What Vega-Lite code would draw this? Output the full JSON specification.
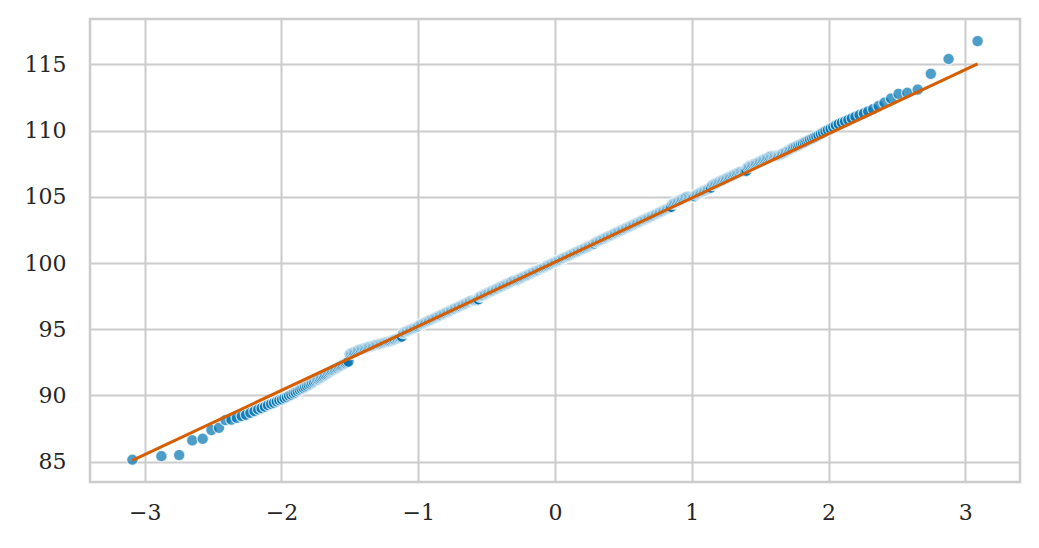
{
"$schema":"https://vega.github.io/schema/vega-lite/v6.json",
"width":930,"height":463,
"autosize":{"type":"none"},
"padding":{"left":90,"top":19,"right":19,"bottom":66},
"background":"white",
"config":{
"view":{"stroke":"#cccccc","strokeWidth":2.5},
"axis":{"grid":true,"gridColor":"#cccccc","gridWidth":2,"domain":false,"ticks":false,"labelFont":"DejaVu Serif","labelFontSize":22,"labelColor":"#262626","title":null}
},
"datasets":{
"fit":[{"x":-3.09,"y":85.11},{"x":3.09,"y":115.03}],
"pts":[
{"x":-3.090,"y":85.15},{"x":-2.878,"y":85.42},{"x":-2.748,"y":85.50},{"x":-2.652,"y":86.61},{"x":-2.576,"y":86.73},{"x":-2.512,"y":87.39},{"x":-2.457,"y":87.56},{"x":-2.409,"y":88.14},{"x":-2.366,"y":88.17},{"x":-2.326,"y":88.31},
{"x":-2.290,"y":88.44},{"x":-2.259,"y":88.54},{"x":-2.227,"y":88.69},{"x":-2.197,"y":88.82},{"x":-2.170,"y":88.95},{"x":-2.145,"y":89.04},{"x":-2.121,"y":89.15},{"x":-2.098,"y":89.27},{"x":-2.075,"y":89.36},{"x":-2.054,"y":89.45},
{"x":-2.034,"y":89.55},{"x":-2.015,"y":89.64},{"x":-1.996,"y":89.71},{"x":-1.978,"y":89.80},{"x":-1.960,"y":89.88},{"x":-1.944,"y":89.98},{"x":-1.927,"y":90.06},{"x":-1.911,"y":90.16},{"x":-1.896,"y":90.24},{"x":-1.881,"y":90.33},
{"x":-1.866,"y":90.42},{"x":-1.853,"y":90.50},{"x":-1.839,"y":90.57},{"x":-1.826,"y":90.65},{"x":-1.813,"y":90.73},{"x":-1.800,"y":90.80},{"x":-1.787,"y":90.87},{"x":-1.775,"y":90.95},{"x":-1.763,"y":91.02},{"x":-1.751,"y":91.10},
{"x":-1.74,"y":91.17},{"x":-1.73,"y":91.23},{"x":-1.72,"y":91.30},{"x":-1.71,"y":91.35},{"x":-1.70,"y":91.42},{"x":-1.69,"y":91.48},{"x":-1.68,"y":91.55},{"x":-1.67,"y":91.62},{"x":-1.66,"y":91.69},{"x":-1.65,"y":91.75},
{"x":-1.64,"y":91.81},{"x":-1.63,"y":91.87},{"x":-1.62,"y":91.93},{"x":-1.61,"y":91.99},{"x":-1.60,"y":92.05},{"x":-1.59,"y":92.09},{"x":-1.58,"y":92.15},{"x":-1.57,"y":92.21},{"x":-1.56,"y":92.27},{"x":-1.55,"y":92.33},
{"x":-1.54,"y":92.39},{"x":-1.53,"y":92.44},{"x":-1.52,"y":92.50},{"x":-1.51,"y":92.56},{"x":-1.50,"y":93.13},{"x":-1.49,"y":93.18},{"x":-1.48,"y":93.22},{"x":-1.47,"y":93.27},{"x":-1.46,"y":93.31},{"x":-1.45,"y":93.35},
{"x":-1.44,"y":93.41},{"x":-1.43,"y":93.45},{"x":-1.42,"y":93.48},{"x":-1.41,"y":93.52},{"x":-1.40,"y":93.54},{"x":-1.39,"y":93.57},{"x":-1.38,"y":93.60},{"x":-1.37,"y":93.64},{"x":-1.36,"y":93.67},{"x":-1.35,"y":93.70},
{"x":-1.34,"y":93.72},{"x":-1.33,"y":93.75},{"x":-1.32,"y":93.78},{"x":-1.31,"y":93.81},{"x":-1.30,"y":93.84},{"x":-1.29,"y":93.87},{"x":-1.28,"y":93.89},{"x":-1.27,"y":93.92},{"x":-1.26,"y":93.95},{"x":-1.25,"y":93.98},
{"x":-1.24,"y":94.01},{"x":-1.23,"y":94.04},{"x":-1.22,"y":94.07},{"x":-1.21,"y":94.09},{"x":-1.20,"y":94.11},{"x":-1.19,"y":94.15},{"x":-1.18,"y":94.19},{"x":-1.17,"y":94.23},{"x":-1.16,"y":94.28},{"x":-1.15,"y":94.31},
{"x":-1.14,"y":94.36},{"x":-1.13,"y":94.40},{"x":-1.12,"y":94.45},{"x":-1.11,"y":94.72},{"x":-1.10,"y":94.77},{"x":-1.09,"y":94.82},{"x":-1.08,"y":94.87},{"x":-1.07,"y":94.91},{"x":-1.06,"y":94.95},{"x":-1.05,"y":95.00},
{"x":-1.04,"y":95.05},{"x":-1.03,"y":95.09},{"x":-1.02,"y":95.13},{"x":-1.01,"y":95.17},{"x":-1.00,"y":95.22},{"x":-0.99,"y":95.30},{"x":-0.98,"y":95.37},{"x":-0.97,"y":95.42},{"x":-0.96,"y":95.46},{"x":-0.95,"y":95.51},
{"x":-0.94,"y":95.56},{"x":-0.93,"y":95.61},{"x":-0.92,"y":95.66},{"x":-0.91,"y":95.71},{"x":-0.90,"y":95.75},{"x":-0.89,"y":95.80},{"x":-0.88,"y":95.85},{"x":-0.87,"y":95.90},{"x":-0.86,"y":95.95},{"x":-0.85,"y":96.00},
{"x":-0.84,"y":96.04},{"x":-0.83,"y":96.09},{"x":-0.82,"y":96.14},{"x":-0.81,"y":96.19},{"x":-0.80,"y":96.24},{"x":-0.79,"y":96.29},{"x":-0.78,"y":96.33},{"x":-0.77,"y":96.38},{"x":-0.76,"y":96.43},{"x":-0.75,"y":96.48},
{"x":-0.74,"y":96.53},{"x":-0.73,"y":96.58},{"x":-0.72,"y":96.63},{"x":-0.71,"y":96.67},{"x":-0.70,"y":96.72},{"x":-0.69,"y":96.77},{"x":-0.68,"y":96.82},{"x":-0.67,"y":96.87},{"x":-0.66,"y":96.92},{"x":-0.65,"y":96.96},
{"x":-0.64,"y":97.01},{"x":-0.63,"y":97.06},{"x":-0.62,"y":97.11},{"x":-0.61,"y":97.16},{"x":-0.60,"y":97.17},{"x":-0.59,"y":97.17},{"x":-0.58,"y":97.18},{"x":-0.57,"y":97.21},{"x":-0.56,"y":97.26},{"x":-0.55,"y":97.46},
{"x":-0.54,"y":97.51},{"x":-0.53,"y":97.55},{"x":-0.52,"y":97.60},{"x":-0.51,"y":97.65},{"x":-0.50,"y":97.70},{"x":-0.49,"y":97.75},{"x":-0.48,"y":97.80},{"x":-0.47,"y":97.85},{"x":-0.46,"y":97.89},{"x":-0.45,"y":97.94},
{"x":-0.44,"y":97.99},{"x":-0.43,"y":98.04},{"x":-0.42,"y":98.09},{"x":-0.41,"y":98.14},{"x":-0.40,"y":98.18},{"x":-0.39,"y":98.23},{"x":-0.38,"y":98.28},{"x":-0.37,"y":98.33},{"x":-0.36,"y":98.38},{"x":-0.35,"y":98.43},
{"x":-0.34,"y":98.47},{"x":-0.33,"y":98.52},{"x":-0.32,"y":98.57},{"x":-0.31,"y":98.62},{"x":-0.30,"y":98.67},{"x":-0.29,"y":98.67},{"x":-0.28,"y":98.71},{"x":-0.27,"y":98.76},{"x":-0.26,"y":98.81},{"x":-0.25,"y":98.86},
{"x":-0.24,"y":98.91},{"x":-0.23,"y":98.96},{"x":-0.22,"y":99.01},{"x":-0.21,"y":99.05},{"x":-0.20,"y":99.10},{"x":-0.19,"y":99.15},{"x":-0.18,"y":99.20},{"x":-0.17,"y":99.25},{"x":-0.16,"y":99.30},{"x":-0.15,"y":99.34},
{"x":-0.14,"y":99.39},{"x":-0.13,"y":99.44},{"x":-0.12,"y":99.49},{"x":-0.11,"y":99.54},{"x":-0.10,"y":99.59},{"x":-0.09,"y":99.63},{"x":-0.08,"y":99.68},{"x":-0.07,"y":99.73},{"x":-0.06,"y":99.78},{"x":-0.05,"y":99.83},
{"x":-0.04,"y":99.88},{"x":-0.03,"y":99.92},{"x":-0.02,"y":99.97},{"x":-0.01,"y":100.02},{"x":0.00,"y":100.07},{"x":0.01,"y":100.12},{"x":0.02,"y":100.17},{"x":0.03,"y":100.22},{"x":0.04,"y":100.26},{"x":0.05,"y":100.31},
{"x":0.06,"y":100.36},{"x":0.07,"y":100.41},{"x":0.08,"y":100.46},{"x":0.09,"y":100.51},{"x":0.10,"y":100.55},{"x":0.11,"y":100.60},{"x":0.12,"y":100.65},{"x":0.13,"y":100.70},{"x":0.14,"y":100.75},{"x":0.15,"y":100.80},
{"x":0.16,"y":100.84},{"x":0.17,"y":100.89},{"x":0.18,"y":100.94},{"x":0.19,"y":100.99},{"x":0.20,"y":101.04},{"x":0.21,"y":101.09},{"x":0.22,"y":101.13},{"x":0.23,"y":101.18},{"x":0.24,"y":101.23},{"x":0.25,"y":101.28},
{"x":0.26,"y":101.33},{"x":0.27,"y":101.38},{"x":0.28,"y":101.43},{"x":0.29,"y":101.47},{"x":0.30,"y":101.57},{"x":0.31,"y":101.62},{"x":0.32,"y":101.67},{"x":0.33,"y":101.72},{"x":0.34,"y":101.77},{"x":0.35,"y":101.81},
{"x":0.36,"y":101.86},{"x":0.37,"y":101.91},{"x":0.38,"y":101.96},{"x":0.39,"y":102.01},{"x":0.40,"y":102.06},{"x":0.41,"y":102.10},{"x":0.42,"y":102.15},{"x":0.43,"y":102.20},{"x":0.44,"y":102.25},{"x":0.45,"y":102.30},
{"x":0.46,"y":102.35},{"x":0.47,"y":102.39},{"x":0.48,"y":102.44},{"x":0.49,"y":102.49},{"x":0.50,"y":102.54},{"x":0.51,"y":102.59},{"x":0.52,"y":102.64},{"x":0.53,"y":102.69},{"x":0.54,"y":102.73},{"x":0.55,"y":102.78},
{"x":0.56,"y":102.83},{"x":0.57,"y":102.88},{"x":0.58,"y":102.93},{"x":0.59,"y":102.98},{"x":0.60,"y":103.02},{"x":0.61,"y":103.07},{"x":0.62,"y":103.12},{"x":0.63,"y":103.17},{"x":0.64,"y":103.22},{"x":0.65,"y":103.27},
{"x":0.66,"y":103.31},{"x":0.67,"y":103.36},{"x":0.68,"y":103.41},{"x":0.69,"y":103.46},{"x":0.70,"y":103.51},{"x":0.71,"y":103.56},{"x":0.72,"y":103.60},{"x":0.73,"y":103.65},{"x":0.74,"y":103.70},{"x":0.75,"y":103.75},
{"x":0.76,"y":103.80},{"x":0.77,"y":103.85},{"x":0.78,"y":103.90},{"x":0.79,"y":103.94},{"x":0.80,"y":103.99},{"x":0.81,"y":104.04},{"x":0.82,"y":104.09},{"x":0.83,"y":104.14},{"x":0.84,"y":104.19},{"x":0.85,"y":104.23},
{"x":0.86,"y":104.48},{"x":0.87,"y":104.53},{"x":0.88,"y":104.58},{"x":0.89,"y":104.63},{"x":0.90,"y":104.68},{"x":0.91,"y":104.72},{"x":0.92,"y":104.77},{"x":0.93,"y":104.82},{"x":0.94,"y":104.87},{"x":0.95,"y":104.92},
{"x":0.96,"y":104.97},{"x":0.97,"y":105.01},{"x":0.98,"y":105.01},{"x":0.99,"y":105.01},{"x":1.00,"y":105.01},{"x":1.01,"y":105.02},{"x":1.02,"y":105.04},{"x":1.03,"y":105.16},{"x":1.04,"y":105.20},{"x":1.05,"y":105.25},
{"x":1.06,"y":105.30},{"x":1.07,"y":105.35},{"x":1.08,"y":105.40},{"x":1.09,"y":105.45},{"x":1.10,"y":105.49},{"x":1.11,"y":105.54},{"x":1.12,"y":105.59},{"x":1.13,"y":105.64},{"x":1.14,"y":105.69},{"x":1.15,"y":105.89},
{"x":1.16,"y":105.93},{"x":1.17,"y":105.98},{"x":1.18,"y":106.03},{"x":1.19,"y":106.08},{"x":1.20,"y":106.13},{"x":1.21,"y":106.18},{"x":1.22,"y":106.22},{"x":1.23,"y":106.27},{"x":1.24,"y":106.32},{"x":1.25,"y":106.37},
{"x":1.26,"y":106.42},{"x":1.27,"y":106.47},{"x":1.28,"y":106.52},{"x":1.29,"y":106.56},{"x":1.30,"y":106.61},{"x":1.31,"y":106.66},{"x":1.32,"y":106.71},{"x":1.33,"y":106.76},{"x":1.34,"y":106.81},{"x":1.35,"y":106.85},
{"x":1.36,"y":106.90},{"x":1.37,"y":106.91},{"x":1.38,"y":106.92},{"x":1.39,"y":106.93},{"x":1.40,"y":106.95},{"x":1.41,"y":107.24},{"x":1.42,"y":107.29},{"x":1.43,"y":107.34},{"x":1.44,"y":107.39},{"x":1.45,"y":107.44},
{"x":1.46,"y":107.49},{"x":1.47,"y":107.53},{"x":1.48,"y":107.58},{"x":1.49,"y":107.63},{"x":1.50,"y":107.68},{"x":1.51,"y":107.73},{"x":1.52,"y":107.78},{"x":1.53,"y":107.83},{"x":1.54,"y":107.87},{"x":1.55,"y":107.92},
{"x":1.56,"y":107.97},{"x":1.57,"y":108.02},{"x":1.58,"y":108.07},{"x":1.59,"y":108.08},{"x":1.60,"y":108.08},{"x":1.61,"y":108.09},{"x":1.62,"y":108.10},{"x":1.63,"y":108.12},{"x":1.64,"y":108.15},{"x":1.65,"y":108.19},
{"x":1.66,"y":108.23},{"x":1.67,"y":108.29},{"x":1.68,"y":108.35},{"x":1.69,"y":108.41},{"x":1.70,"y":108.47},{"x":1.71,"y":108.53},{"x":1.72,"y":108.58},{"x":1.73,"y":108.64},{"x":1.74,"y":108.69},
{"x":1.751,"y":108.75},{"x":1.763,"y":108.80},{"x":1.775,"y":108.86},{"x":1.787,"y":108.92},{"x":1.800,"y":108.98},{"x":1.813,"y":109.05},{"x":1.826,"y":109.12},{"x":1.839,"y":109.19},{"x":1.853,"y":109.26},{"x":1.866,"y":109.33},
{"x":1.881,"y":109.40},{"x":1.896,"y":109.48},{"x":1.911,"y":109.56},{"x":1.927,"y":109.65},{"x":1.944,"y":109.75},{"x":1.960,"y":109.85},{"x":1.978,"y":109.95},{"x":1.996,"y":110.05},{"x":2.015,"y":110.15},{"x":2.034,"y":110.28},
{"x":2.054,"y":110.40},{"x":2.075,"y":110.50},{"x":2.098,"y":110.60},{"x":2.121,"y":110.70},{"x":2.145,"y":110.80},{"x":2.170,"y":110.92},{"x":2.197,"y":111.05},{"x":2.227,"y":111.18},{"x":2.259,"y":111.30},{"x":2.290,"y":111.45},
{"x":2.326,"y":111.62},{"x":2.366,"y":111.85},{"x":2.409,"y":112.10},{"x":2.457,"y":112.42},{"x":2.512,"y":112.77},{"x":2.576,"y":112.85},{"x":2.652,"y":113.09},{"x":2.748,"y":114.28},{"x":2.878,"y":115.40},{"x":3.090,"y":116.75}
]},
"encoding":{
"x":{"field":"x","type":"quantitative","scale":{"domain":[-3.40,3.40],"nice":false,"zero":false},"axis":{"values":[-3,-2,-1,0,1,2,3],"format":"d","labelPadding":20}},
"y":{"field":"y","type":"quantitative","scale":{"domain":[83.47,118.42],"nice":false,"zero":false},"axis":{"values":[85,90,95,100,105,110,115],"format":"d","labelPadding":24}}
},
"layer":[
{"data":{"name":"pts"},"mark":{"type":"circle","size":130,"fill":"#0173b2","stroke":"white","strokeWidth":1.2,"opacity":1,"fillOpacity":0.7,"strokeOpacity":0.7}},
{"data":{"name":"fit"},"mark":{"type":"line","color":"#d55e00","strokeWidth":3}}
]
}
